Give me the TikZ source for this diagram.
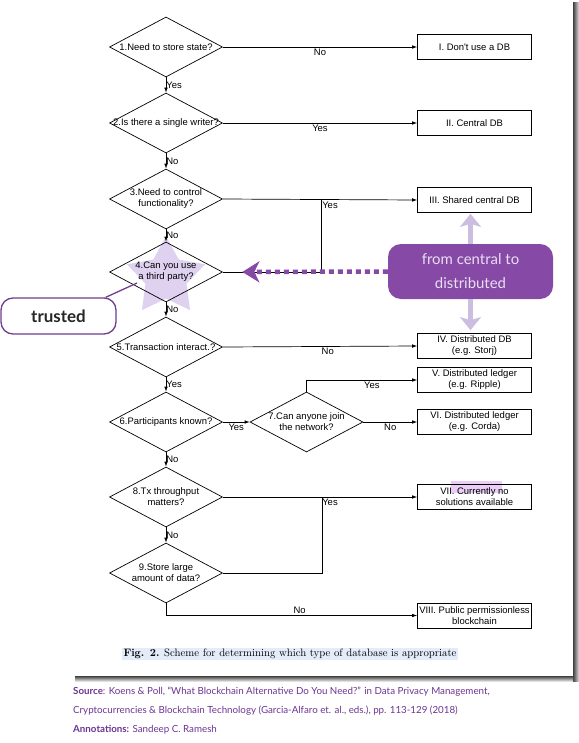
\documentclass[tikz,border=0pt]{standalone}
\usepackage{fontspec}
\newfontfamily\chartfont{Liberation Sans}
\newfontfamily\notefont{Lato}
\usetikzlibrary{shapes.geometric,arrows.meta}
\definecolor{starlav}{RGB}{222,210,240}
\definecolor{shiftpurple}{RGB}{134,74,166}
\definecolor{shifttext}{RGB}{234,222,244}
\definecolor{lavarrow}{RGB}{204,190,224}
\definecolor{trustpurple}{RGB}{112,62,142}
\definecolor{notepurple}{RGB}{108,52,146}
\definecolor{markpink}{RGB}{234,206,246}
\definecolor{capblue}{RGB}{228,236,250}
\tikzset{>={Latex[length=5bp,width=3.6bp]}}

\begin{document}
\begin{tikzpicture}[x=1bp,y=-1bp,
    query/.style={diamond, draw, line width=0.7bp, minimum width=113bp, minimum height=60bp, inner sep=0pt},
    qtext/.style={font=\chartfont\fontsize{9.5}{11}\selectfont, align=center, inner sep=0pt},
    outcome/.style={draw, line width=0.7bp, minimum width=114bp, minimum height=25bp, inner sep=1bp,
      align=center, font=\chartfont\fontsize{9.5}{11}\selectfont},
    ans/.style={font=\chartfont\fontsize{9.5}{11}\selectfont, inner sep=0pt},
    flow/.style={line width=0.7bp}]
    \useasboundingbox (0,0) rectangle (579,743);

    % page shadow
    \shade[left color=black!75, right color=black!12] (573,3) rectangle (579,681);
    \shade[top color=black!75, bottom color=black!12] (75,676) rectangle (573,681);

    % highlights and star behind the chart
    \fill[markpink] (451,481) rectangle (502,493);
    \node[star, star points=5, star point ratio=1.9, minimum size=82bp, inner sep=0pt, fill=starlav] (glow) at (166,277) {};

    % questions
    \node[query, label={[qtext]center:1.Need to store state?}] (q1) at (166,47) {};
    \node[query, label={[qtext]center:2.Is there a single writer?}] (q2) at (166,123) {};
    \node[query, label={[qtext]center:{3.Need to control\\functionality?}}] (q3) at (166,199) {};
    \node[query, label={[qtext]center:{4.Can you use\\a third party?}}] (q4) at (166,272) {};
    \node[query, label={[qtext]center:5.Transaction interact.?}] (q5) at (166,347) {};
    \node[query, label={[qtext]center:6.Participants known?}] (q6) at (166,422) {};
    \node[query, label={[qtext]center:{7.Can anyone join\\the network?}}] (q7) at (306.5,422) {};
    \node[query, label={[qtext]center:{8.Tx throughput\\matters?}}] (q8) at (166,497) {};
    \node[query, label={[qtext]center:{9.Store large\\amount of data?}}] (q9) at (166,573) {};

    % outcomes
    \node[outcome] (r1) at (474.5,47) {I. Don't use a DB};
    \node[outcome] (r2) at (474.5,123) {II. Central DB};
    \node[outcome] (r3) at (474.5,200) {III. Shared central DB};
    \node[outcome] (r4) at (474.5,346) {IV. Distributed DB\\(e.g. Storj)};
    \node[outcome] (r5) at (474.5,380) {V. Distributed ledger\\(e.g. Ripple)};
    \node[outcome] (r6) at (474.5,422) {VI. Distributed ledger\\(e.g. Corda)};
    \node[outcome] (r7) at (474.5,497) {VII. Currently no\\solutions available};
    \node[outcome] (r8) at (474.5,615.5) {VIII. Public permissionless\\blockchain};

    % main column
    \draw[flow,->] (q1) -- (q2) node[midway, ans, anchor=west] {Yes};
    \draw[flow,->] (q2) -- (q3) node[midway, ans, anchor=west] {No};
    \draw[flow,->] (q3) -- (q4) node[midway, ans, anchor=west] {No};
    \draw[flow,->] (q4) -- (q5) node[midway, ans, anchor=west] {No};
    \draw[flow,->] (q5) -- (q6) node[midway, ans, anchor=west] {Yes};
    \draw[flow,->] (q6) -- (q8) node[midway, ans, anchor=west] {No};
    \draw[flow,->] (q8) -- (q9) node[midway, ans, anchor=west] {No};

    % branches to the right
    \coordinate (j3) at (321,199.5);
    \coordinate (j8) at (322,497);
    \draw[flow,->] (q1.east) -- (r1.west) node[midway, ans, below=1.5bp] {No};
    \draw[flow,->] (q2.east) -- (r2.west) node[midway, ans, below=1.5bp] {Yes};
    \draw[flow,->] (q3.east) -- (r3.west) node[pos=0.51, ans, anchor=north west, yshift=-2bp] {Yes};
    \draw[flow] (q4.east) -| (j3);
    \draw[flow,->] (q5.east) -- (r4.west) node[pos=0.54, ans, below=1.5bp] {No};
    \draw[flow,->] (q6.east) -- (q7.west) node[midway, ans, below=1.5bp] {Yes};
    \draw[flow,->] (q7.north) |- (r5.west) node[pos=0.795, ans, below=1.5bp] {Yes};
    \draw[flow,->] (q7.east) -- (r6.west) node[midway, ans, below=1.5bp] {No};
    \draw[flow,->] (q8.east) -- (r7.west) node[pos=0.51, ans, anchor=north west, yshift=-2bp] {Yes};
    \draw[flow] (q9.east) -| (j8);
    \draw[flow,->] (q9.south) |- (r8.west) node[pos=0.766, ans, above=1.5bp] {No};

    % caption
    \node[fill=capblue, inner sep=1.5bp, font=\fontsize{10.8}{12}\selectfont] (cap) at (290,654)
      {\textbf{Fig. 2.} Scheme for determining which type of database is appropriate};

    % annotations
    \node[rounded corners=13bp, fill=shiftpurple, minimum width=165bp, minimum height=55bp, align=center,
      text=shifttext, font=\notefont\fontsize{15}{24}\selectfont] (shift) at (470.5,271.5) {from central to\\distributed};
    \draw[lavarrow, line width=5bp, shorten >=1bp, -{Stealth[length=13bp,width=21bp,inset=3bp]}]
      (shift.north) -- (shift.north |- r3.south);
    \draw[lavarrow, line width=5bp, shorten >=3bp, -{Stealth[length=13bp,width=21bp,inset=3bp]}]
      (shift.south) -- (shift.south |- r4.north);
    \draw[shiftpurple, line width=4.5bp, dash pattern=on 5bp off 4bp, shorten >=19.5bp,
      -{Stealth[length=17bp,width=21bp,inset=5bp]}] (shift.west) -- (q4.east);

    \node[draw=trustpurple, line width=1.3bp, rounded corners=12bp, fill=white, minimum width=115bp,
      minimum height=36bp, font=\notefont\bfseries\fontsize{17}{19}\selectfont, text=black!85] (trusted) at (58.5,316) {trusted};
    \coordinate (tpoint) at (137,283);
    \draw[trustpurple, line width=1.3bp] ([xshift=-11bp]trusted.north east) -- (tpoint);

    % source lines
    \node[anchor=north west, align=left, inner sep=0pt, text=notepurple, font=\notefont\fontsize{9.8}{19}\selectfont] (src) at (73,687)
      {\textbf{Source}: Koens \& Poll, “What Blockchain Alternative Do You Need?” in Data Privacy Management,\\
       Cryptocurrencies \& Blockchain Technology (Garcia-Alfaro et. al., eds.), pp. 113-129 (2018)\\
       \textbf{Annotations:} Sandeep C. Ramesh};
\end{tikzpicture}
\end{document}
